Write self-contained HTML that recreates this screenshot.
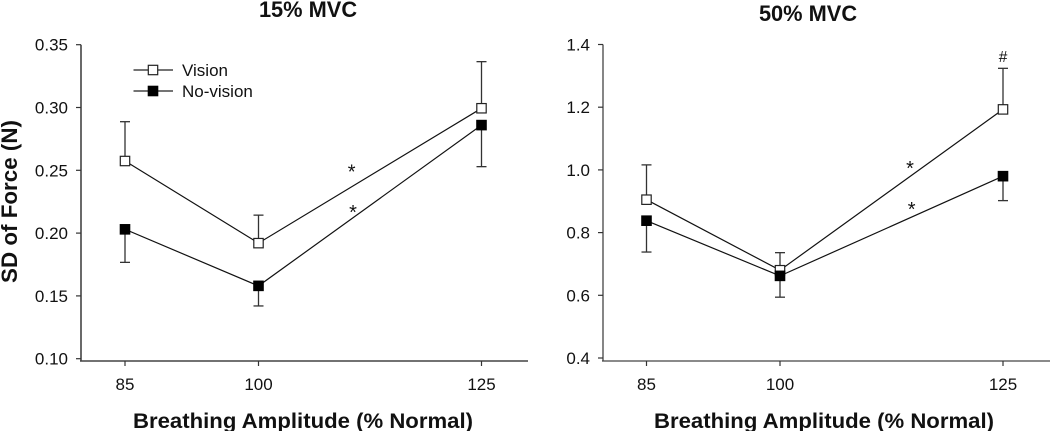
<!DOCTYPE html>
<html lang="en">
<head>
<meta charset="utf-8">
<title>SD of Force by Breathing Amplitude</title>
<style>
html,body{margin:0;padding:0;background:#fff;width:1050px;height:431px;overflow:hidden}
svg{display:block}
text{font-family:"Liberation Sans",Arial,sans-serif;fill:#111}
</style>
</head>
<body>
<svg id="chart" width="1050" height="431" viewBox="0 0 1050 431" xmlns="http://www.w3.org/2000/svg"></svg>
<script>
const categories = [85, 100, 125];

const leftTicks = ['0.10', '0.15', '0.20', '0.25', '0.30', '0.35'];
const leftVision = [0.2574, 0.192, 0.2994];
const leftVisionUpper = [0.2887, 0.2143, 0.3365];
const leftNoVision = [0.203, 0.158, 0.286];
const leftNoVisionLower = [0.1767, 0.142, 0.2529];

const rightTicks = ['0.4', '0.6', '0.8', '1.0', '1.2', '1.4'];
const rightVision = [0.905, 0.68, 1.193];
const rightVisionUpper = [1.016, 0.736, 1.324];
const rightNoVision = [0.838, 0.662, 0.98];
const rightNoVisionLower = [0.738, 0.594, 0.902];

const svg = document.getElementById('chart');
const NS = 'http://www.w3.org/2000/svg';

function add(parent, tag, attrs, content) {
  const el = document.createElementNS(NS, tag);
  for (const k in attrs) el.setAttribute(k, attrs[k]);
  if (content !== undefined) el.textContent = content;
  parent.appendChild(el);
  return el;
}
function named(el, name) {
  
  
  return el;
}

function drawPanel(cfg) {
  const g = named(add(svg, 'g', {}), cfg.id + '-panel');
  const yMin = parseFloat(cfg.ticks[0]);
  const yMax = parseFloat(cfg.ticks[cfg.ticks.length - 1]);
  const xScale = v => {
    const i = categories.indexOf(v);
    return cfg.xPositions[i];
  };
  const yScale = v => cfg.yBottom - (v - yMin) / (yMax - yMin) * (cfg.yBottom - cfg.yTop);

  // axes
  named(add(g, 'line', {x1: cfg.axisX, x2: cfg.axisX, y1: cfg.yTop, y2: cfg.axisY, stroke: '#444', 'stroke-width': cfg.axisWidth}), cfg.id + '-y-axis');
  named(add(g, 'line', {x1: cfg.axisX - 1, x2: cfg.axisEnd, y1: cfg.axisY, y2: cfg.axisY, stroke: '#444', 'stroke-width': cfg.axisWidth}), cfg.id + '-x-axis');

  cfg.ticks.forEach(t => {
    const y = yScale(parseFloat(t));
    named(add(g, 'line', {x1: cfg.axisX - 5, x2: cfg.axisX, y1: y, y2: y, stroke: '#333', 'stroke-width': 1.2}), cfg.id + '-y-tick');
    named(add(g, 'text', {x: cfg.axisX - 13, y: y + 6, 'text-anchor': 'end', 'font-size': 17}, t), cfg.id + '-y-tick-label');
  });
  categories.forEach(c => {
    const x = xScale(c);
    named(add(g, 'line', {x1: x, x2: x, y1: cfg.axisY, y2: cfg.axisY + 5, stroke: '#333', 'stroke-width': 1.2}), cfg.id + '-x-tick');
    named(add(g, 'text', {x: x, y: 390, 'text-anchor': 'middle', 'font-size': 17}, String(c)), cfg.id + '-x-tick-label');
  });

  // connecting lines
  const path = vals => vals.map((v, i) => xScale(categories[i]).toFixed(1) + ',' + yScale(v).toFixed(1)).join(' ');
  named(add(g, 'polyline', {points: path(cfg.vision), fill: 'none', stroke: '#111', 'stroke-width': 1.2}), cfg.id + '-vision-line');
  named(add(g, 'polyline', {points: path(cfg.noVision), fill: 'none', stroke: '#111', 'stroke-width': 1.2}), cfg.id + '-no-vision-line');

  // error bars
  function errorBar(i, from, to, name) {
    const x = xScale(categories[i]);
    const eb = named(add(g, 'g', {stroke: '#333', 'stroke-width': 1.3}), name);
    add(eb, 'line', {x1: x, x2: x, y1: yScale(from), y2: yScale(to)});
    add(eb, 'line', {x1: x - 5, x2: x + 5, y1: yScale(to), y2: yScale(to)});
  }
  categories.forEach((c, i) => {
    errorBar(i, cfg.vision[i], cfg.visionErr[i], cfg.id + '-vision-error-' + c);
    errorBar(i, cfg.noVision[i], cfg.noVisionErr[i], cfg.id + '-no-vision-error-' + c);
  });

  // markers
  categories.forEach((c, i) => {
    const x = xScale(c);
    named(add(g, 'rect', {x: x - 4.7, y: yScale(cfg.vision[i]) - 4.7, width: 9.4, height: 9.4, fill: '#fff', stroke: '#222', 'stroke-width': 1.2}), cfg.id + '-vision-point-' + c);
  });
  categories.forEach((c, i) => {
    const x = xScale(c);
    named(add(g, 'rect', {x: x - 5.3, y: yScale(cfg.noVision[i]) - 5.3, width: 10.6, height: 10.6, fill: '#000'}), cfg.id + '-no-vision-point-' + c);
  });

  // titles
  named(add(g, 'text', {x: cfg.titleX, y: cfg.titleY, 'text-anchor': 'middle', 'font-size': 21.8, 'font-weight': 'bold', fill: '#000'}, cfg.title), cfg.id + '-title');
  named(add(g, 'text', {x: cfg.xTitleX, y: 428, 'text-anchor': 'middle', 'font-size': 21.5, 'font-weight': 'bold', fill: '#000', textLength: 340, lengthAdjust: 'spacingAndGlyphs'}, 'Breathing Amplitude (% Normal)'), cfg.id + '-x-axis-title');

  // significance marks
  cfg.marks.forEach(m => {
    named(add(g, 'text', {x: m[1], y: m[2], 'text-anchor': 'middle', 'font-size': m[3]}, m[0]), cfg.id + '-significance-mark');
  });
}

drawPanel({
  id: 'mvc-15', title: '15% MVC', titleX: 308, titleY: 17, xTitleX: 303,
  ticks: leftTicks, axisX: 81, axisY: 361, axisEnd: 528, axisWidth: 1.6,
  yTop: 44.7, yBottom: 358.7, xPositions: [125, 258.5, 481.5],
  vision: leftVision, visionErr: leftVisionUpper, noVision: leftNoVision, noVisionErr: leftNoVisionLower,
  marks: [['*', 351.7, 178.5, 20], ['*', 353, 218.8, 20]]
});
drawPanel({
  id: 'mvc-50', title: '50% MVC', titleX: 808, titleY: 21, xTitleX: 824,
  ticks: rightTicks, axisX: 603, axisY: 361, axisEnd: 1050, axisWidth: 1.3,
  yTop: 44.5, yBottom: 358, xPositions: [646.5, 780, 1003],
  vision: rightVision, visionErr: rightVisionUpper, noVision: rightNoVision, noVisionErr: rightNoVisionLower,
  marks: [['*', 910, 175.2, 20], ['*', 911.7, 216.2, 20], ['#', 1003, 62, 15.5]]
});

// y-axis title
const yTitle = add(svg, 'text', {x: 0, y: 0, transform: 'translate(17,201.5) rotate(-90)', 'text-anchor': 'middle', 'font-size': 22.4, 'font-weight': 'bold', fill: '#000'}, 'SD of Force (N)');



// legend
const legend = add(svg, 'g', {});



const visionEntry = add(legend, 'g', {});


add(visionEntry, 'line', {x1: 133.5, x2: 173, y1: 70, y2: 70, stroke: '#222', 'stroke-width': 1.2});
add(visionEntry, 'rect', {x: 148.3, y: 65.3, width: 9.4, height: 9.4, fill: '#fff', stroke: '#222', 'stroke-width': 1.2});
add(visionEntry, 'text', {x: 182, y: 76, 'font-size': 17}, 'Vision');

const noVisionEntry = add(legend, 'g', {});


add(noVisionEntry, 'line', {x1: 133.5, x2: 173, y1: 91, y2: 91, stroke: '#222', 'stroke-width': 1.2});
add(noVisionEntry, 'rect', {x: 147.7, y: 85.7, width: 10.6, height: 10.6, fill: '#000'});
add(noVisionEntry, 'text', {x: 182, y: 97, 'font-size': 17}, 'No-vision');
</script>
</body>
</html>
